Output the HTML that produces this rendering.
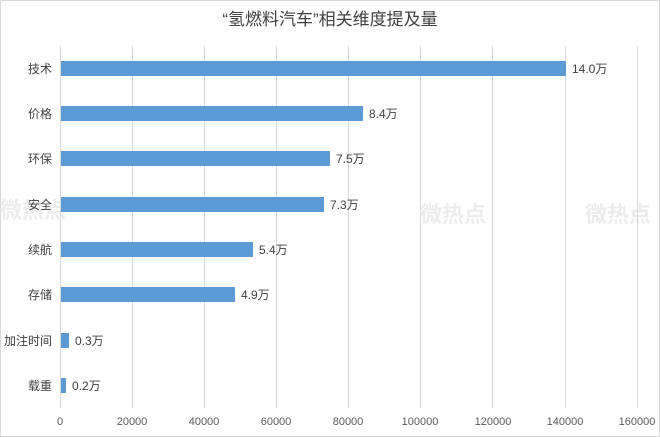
<!DOCTYPE html>
<html><head><meta charset="utf-8"><style>
html,body{margin:0;padding:0;background:#fff;}
svg{display:block;font-family:"Liberation Sans","Noto Sans CJK SC",sans-serif;}
</style></head><body>
<svg width="660" height="437" viewBox="0 0 660 437">
<rect x="0.5" y="0.5" width="659" height="436" fill="#fff" stroke="#d9d9d9"/>
<text x="330" y="25" font-size="17" text-anchor="middle" fill="#404040">“氢燃料汽车”相关维度提及量</text>
<g fill="#ececec" font-size="22" font-weight="bold">
<text x="0" y="218">微热点</text>
<text x="420" y="222">微热点</text>
<text x="585" y="222">微热点</text>
</g>
<g stroke="#d9d9d9" stroke-width="1">
<line x1="132.5" y1="46" x2="132.5" y2="408"/>
<line x1="204.5" y1="46" x2="204.5" y2="408"/>
<line x1="276.5" y1="46" x2="276.5" y2="408"/>
<line x1="348.5" y1="46" x2="348.5" y2="408"/>
<line x1="420.5" y1="46" x2="420.5" y2="408"/>
<line x1="492.5" y1="46" x2="492.5" y2="408"/>
<line x1="565.5" y1="46" x2="565.5" y2="408"/>
<line x1="637.5" y1="46" x2="637.5" y2="408"/>
<line x1="60.5" y1="46" x2="60.5" y2="408"/>
</g>
<g fill="#5b9bd5">
<rect x="61" y="61" width="505" height="15"/>
<rect x="61" y="106" width="302" height="15"/>
<rect x="61" y="151" width="269" height="15"/>
<rect x="61" y="197" width="263" height="15"/>
<rect x="61" y="242" width="192" height="15"/>
<rect x="61" y="287" width="174" height="15"/>
<rect x="61" y="333" width="8" height="15"/>
<rect x="61" y="378" width="5" height="15"/>
</g>
<g font-size="12" fill="#404040" text-anchor="end">
<text x="52" y="73">技术</text>
<text x="52" y="118">价格</text>
<text x="52" y="163">环保</text>
<text x="52" y="209">安全</text>
<text x="52" y="254">续航</text>
<text x="52" y="299">存储</text>
<text x="52" y="345">加注时间</text>
<text x="52" y="390">载重</text>
</g>
<g font-size="12" fill="#404040">
<text x="572" y="73">14.0万</text>
<text x="369" y="118">8.4万</text>
<text x="336" y="163">7.5万</text>
<text x="330" y="209">7.3万</text>
<text x="259" y="254">5.4万</text>
<text x="241" y="299">4.9万</text>
<text x="75" y="345">0.3万</text>
<text x="72" y="390">0.2万</text>
</g>
<g font-size="11" fill="#595959" text-anchor="middle">
<text x="60" y="425">0</text>
<text x="132" y="425">20000</text>
<text x="204" y="425">40000</text>
<text x="276" y="425">60000</text>
<text x="348" y="425">80000</text>
<text x="420" y="425">100000</text>
<text x="493" y="425">120000</text>
<text x="565" y="425">140000</text>
<text x="637" y="425">160000</text>
</g>
</svg>
</body></html>
